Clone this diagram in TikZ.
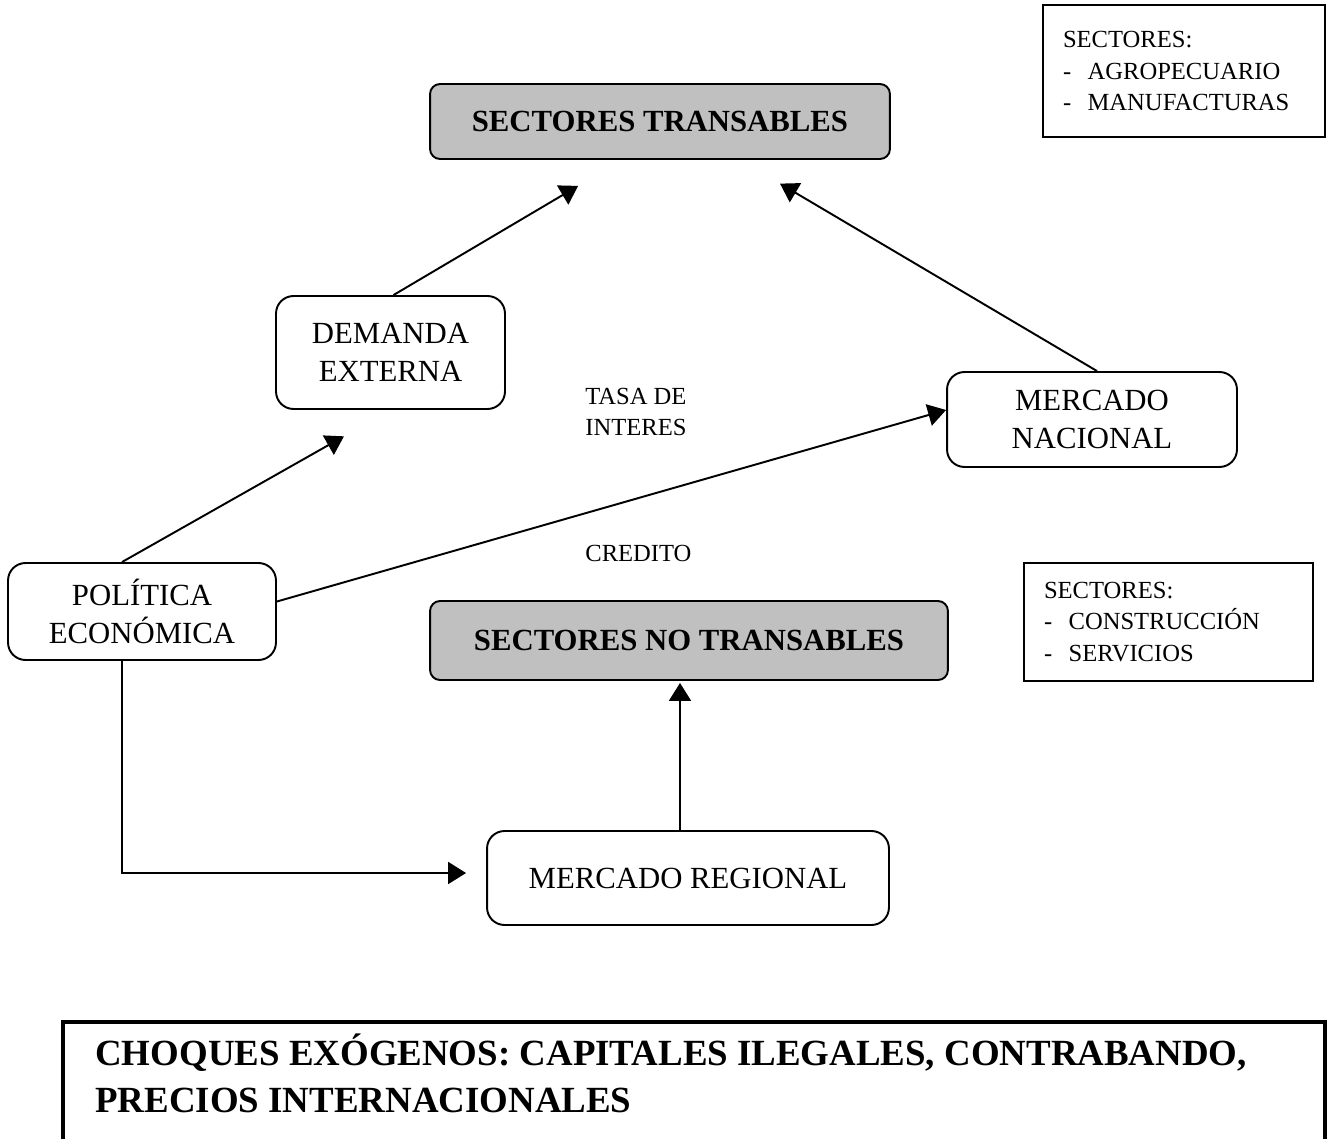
\documentclass[tikz,border=0pt]{standalone}
\usepackage{fontspec}
\setmainfont{Liberation Serif}
\usetikzlibrary{arrows.meta}
\definecolor{boxgray}{HTML}{C0C0C0}
\newcommand{\txtnormal}{\fontsize{17.5}{21.5}\selectfont}
\newcommand{\txtsmall}{\fontsize{14}{18}\selectfont}
\newcommand{\txtbig}{\fontsize{21}{26.7}\selectfont\bfseries}

\begin{document}
\begin{tikzpicture}[x=0.02cm, y=-0.02cm,
	sectorbox/.style={draw=black, line width=1.1pt, fill=boxgray, rounded corners=0.2cm,
		font=\txtnormal\bfseries, align=center},
	flowbox/.style={draw=black, line width=1.1pt, rounded corners=0.35cm,
		font=\txtnormal, align=center},
	listbox/.style={draw=black, line width=1.1pt, font=\txtsmall, align=left,
		inner xsep=0.4cm},
	arr/.style={draw=black, line width=1.1pt, -{Triangle[length=0.36cm, width=0.44cm]}}]
	\useasboundingbox (0,0) rectangle (1333,1139);
	% sectores
	\node[sectorbox, minimum width=9.2cm, minimum height=1.5cm] (tran) at (660,121.5) {SECTORES TRANSABLES};
	\node[sectorbox, minimum width=10.36cm, minimum height=1.58cm] (notran) at (689,640.5) {SECTORES NO TRANSABLES};
	\node[listbox, text width=4.84cm, minimum height=2.64cm] (listtran) at (1184,71)
		{SECTORES:\\-\ \ AGROPECUARIO\\-\ \ MANUFACTURAS};
	\node[listbox, text width=4.98cm, minimum height=2.36cm] (listnotran) at (1168.5,622)
		{SECTORES:\\-\ \ CONSTRUCCIÓN\\-\ \ SERVICIOS};
	% mercados
	\node[flowbox, minimum width=4.58cm, minimum height=2.26cm] (dem) at (390.5,352.5) {DEMANDA\\EXTERNA};
	\node[flowbox, minimum width=5.8cm, minimum height=1.9cm] (nac) at (1092,419.5) {MERCADO\\NACIONAL};
	\node[flowbox, minimum width=5.36cm, minimum height=1.94cm] (pol) at (142,611.5) {POLÍTICA\\ECONÓMICA};
	\node[flowbox, minimum width=8.04cm, minimum height=1.88cm] (reg) at (688,878) {MERCADO REGIONAL};
	\node[font=\txtsmall, align=left, anchor=west, inner sep=0pt] (tasa) at (585,412) {TASA DE\\INTERES};
	\node[font=\txtsmall, anchor=west, inner sep=0pt] (credito) at (585,553) {CREDITO};
	% flechas
	\draw[arr, shorten >=1.02cm] ([xshift=0.06cm]dem.north) -- ([xshift=-0.76cm]tran.south);
	\draw[arr, shorten >=0.93cm] ([xshift=0.1cm]nac.north) -- ([xshift=1.6cm]tran.south);
	\draw[arr, shorten >=1.07cm] ([xshift=-0.4cm]pol.north) -- (dem.south);
	\draw[arr] ([yshift=0.2cm]pol.east) -- ([yshift=0.19cm]nac.west);
	\draw[arr, shorten >=0.4cm] ([xshift=-0.4cm]pol.south) |- ([yshift=0.1cm]reg.west);
	\draw[arr, shorten >=0.04cm] ([xshift=-0.16cm]reg.north) -- ([xshift=-0.16cm]reg.north |- notran.south);
	% choques
	\draw[line width=2.8pt] (63,1022) rectangle (1325,1175);
	\node[font=\txtbig, align=left, anchor=west, inner sep=0pt] (choques) at (95,1073)
		{CHOQUES EXÓGENOS: CAPITALES ILEGALES, CONTRABANDO,\\PRECIOS INTERNACIONALES};
\end{tikzpicture}
\end{document}
